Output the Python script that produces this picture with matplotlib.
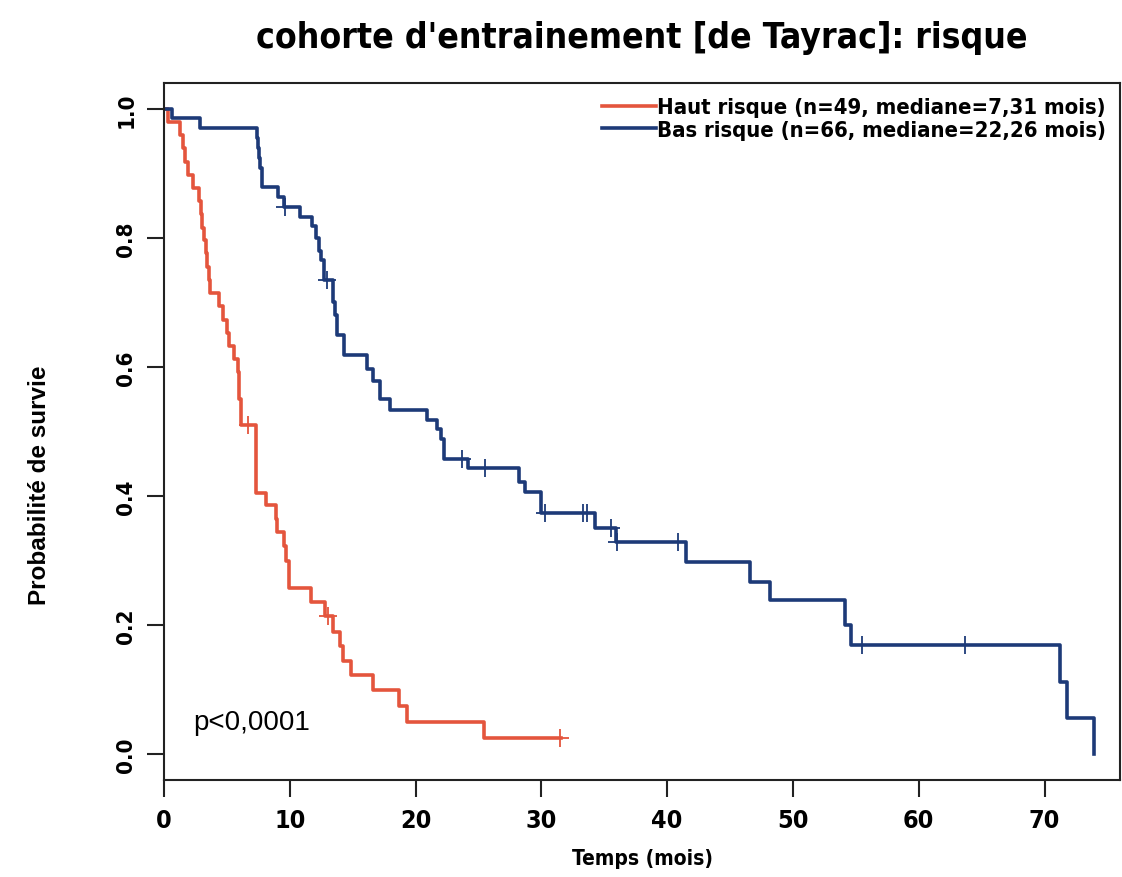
import matplotlib
matplotlib.use("Agg")
import matplotlib.pyplot as plt
import numpy as np

# Kaplan-Meier steps (time in months, survival)
haut_times = [0, 0.3, 1.3, 1.5, 1.7, 1.9, 2.3, 2.8, 2.95, 3.05, 3.15, 3.3, 3.4, 3.55,
              3.65, 4.4, 4.7, 5.0, 5.2, 5.6, 5.9, 6.0, 6.1, 7.31, 8.1, 8.9, 9.0, 9.5,
              9.7, 9.9, 11.7, 12.8, 13.45, 14.0, 14.2, 14.9, 16.6, 18.7, 19.3, 25.4, 31.6]
haut_surv = [1.0, 0.98, 0.959, 0.939, 0.918, 0.898, 0.878, 0.857, 0.837, 0.816, 0.796,
             0.776, 0.755, 0.735, 0.714, 0.694, 0.673, 0.653, 0.633, 0.612, 0.592, 0.551,
             0.510, 0.404, 0.386, 0.365, 0.344, 0.322, 0.300, 0.258, 0.236, 0.214, 0.19,
             0.168, 0.145, 0.122, 0.100, 0.075, 0.05, 0.025, 0.025]
haut_censor = [6.7, 13.0, 31.5]

bas_times = [0, 0.6, 2.85, 7.37, 7.45, 7.55, 7.65, 7.76, 9.1, 9.5, 10.8, 11.75, 12.1,
             12.3, 12.5, 12.7, 13.45, 13.6, 13.75, 14.3, 16.1, 16.65, 17.2, 17.98, 20.9,
             21.7, 22.0, 22.26, 24.2, 28.2, 28.7, 30.0, 34.3, 35.9, 41.5, 46.6, 48.2,
             54.1, 54.6, 71.2, 71.8, 73.9]
bas_surv = [1.0, 0.985, 0.970, 0.955, 0.94, 0.924, 0.909, 0.879, 0.864, 0.848, 0.833,
            0.818, 0.80, 0.78, 0.765, 0.735, 0.70, 0.68, 0.65, 0.618, 0.597, 0.578, 0.551,
            0.533, 0.518, 0.504, 0.488, 0.458, 0.443, 0.422, 0.406, 0.373, 0.35, 0.329,
            0.298, 0.267, 0.239, 0.2, 0.169, 0.112, 0.056, 0.0]
bas_censor = [9.63, 12.94, 23.7, 25.5, 30.3, 33.3, 33.65, 35.5, 36.05, 40.9, 55.5, 63.7]

labels = ["Haut risque (n=49, mediane=7,31 mois)",
          "Bas risque (n=66, mediane=22,26 mois)"]
x_ticks = [0, 10, 20, 30, 40, 50, 60, 70]
y_ticks = [0.0, 0.2, 0.4, 0.6, 0.8, 1.0]

red = "#e4553d"
blue = "#1d3a78"
narrow = dict(family="DejaVu Sans", stretch="condensed", weight="bold")
arial = ["Liberation Sans", "DejaVu Sans"]


def level_at(times, surv, t):
    # survival level of the step curve at time t
    idx = np.searchsorted(times, t, side="right") - 1
    return np.asarray(surv)[idx]


fig = plt.figure(figsize=(11.22, 8.78), dpi=100)
ax = fig.add_axes([164 / 1122, 1 - 781 / 878, (1120 - 164) / 1122, (781 - 84) / 878])

curves = [(haut_times, haut_surv, haut_censor, red),
          (bas_times, bas_surv, bas_censor, blue)]
for (t, s, c, col), lab in zip(curves, labels):
    ax.step(t, s, where="post", color=col, lw=2.6, label=lab)
    ax.plot(c, level_at(t, s, c), ls="none", marker="+", ms=13, mew=1.3, color=col)

ax.set_xlim(0, 76)
ax.set_ylim(-0.04, 1.04)
ax.set_xticks(x_ticks)
ax.set_yticks(y_ticks)
ax.set_xticklabels([str(v) for v in x_ticks], fontsize=18, **narrow)
ax.set_yticklabels([f"{v:.1f}" for v in y_ticks], fontsize=16, rotation=90,
                   va="center", **narrow)
ax.tick_params(axis="x", length=12, width=1.5, pad=8, colors="#222222", labelcolor="black")
ax.tick_params(axis="y", length=12, width=1.5, pad=8, colors="#222222", labelcolor="black")
for sp in ax.spines.values():
    sp.set_linewidth(1.5)
    sp.set_color("#222222")

ax.set_xlabel("Temps (mois)", fontsize=15, labelpad=12, **narrow)
fig.text(40 / 1122, 1 - 485 / 878, "Probabilité de survie", family=arial, weight="bold",
         fontsize=17.5, rotation=90, ha="center", va="center")
fig.suptitle("cohorte d'entrainement [de Tayrac]: risque", fontsize=25.5,
             x=642 / 1122, y=1 - 38 / 878, va="center", **narrow)

ax.text(2.3, 0.05, "p<0,0001", family=arial, fontsize=20, ha="left", va="center")

leg = ax.legend(loc="upper right", frameon=False, prop=dict(size=15.8, **narrow),
                handlelength=2.45, handletextpad=0.05, labelspacing=0.12,
                borderaxespad=0.25)

fig.savefig("out.png", dpi=100)
